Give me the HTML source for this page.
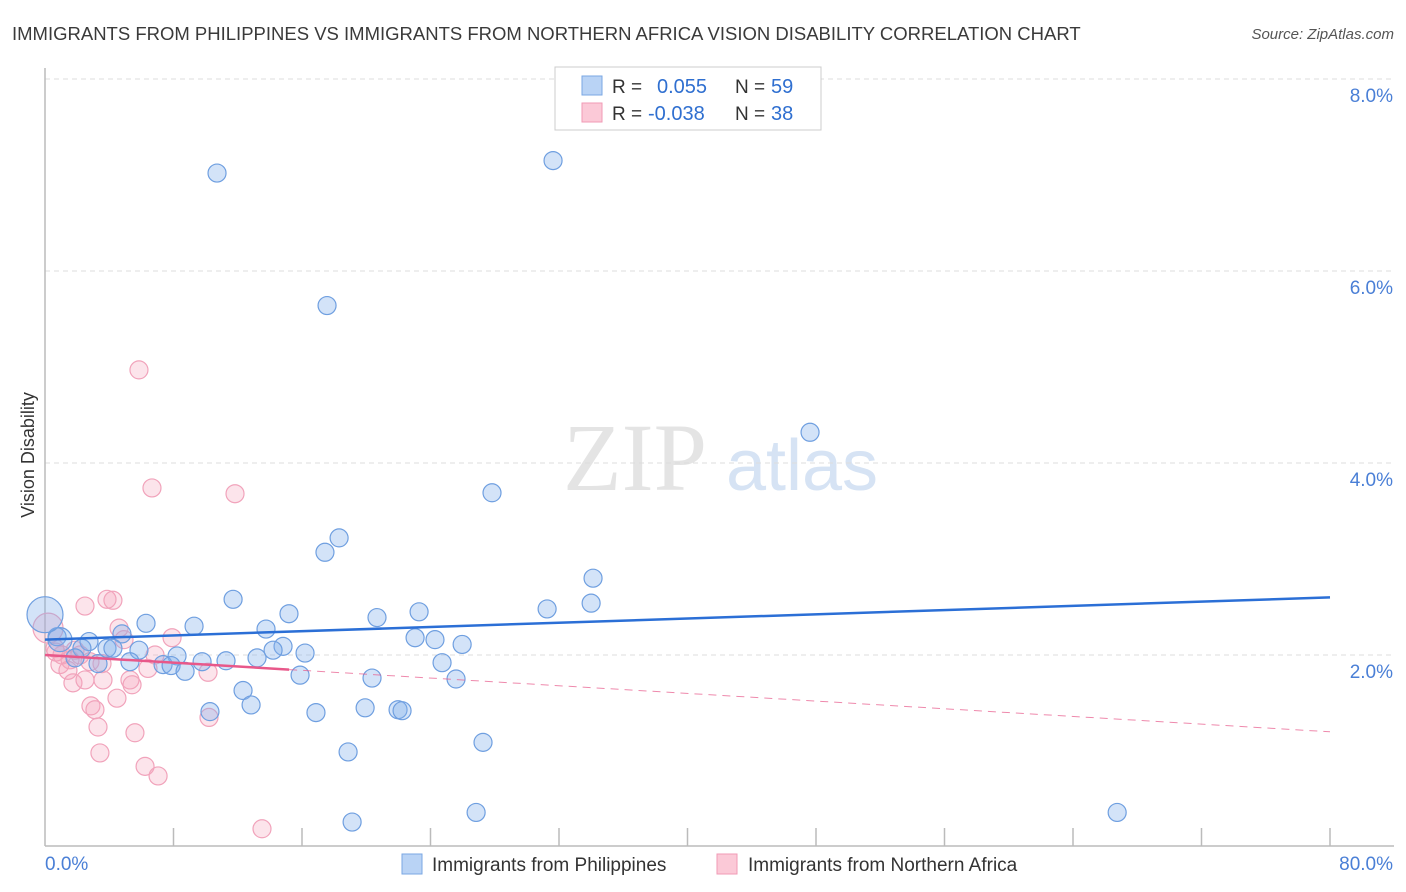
<!DOCTYPE html>
<html><head><meta charset="utf-8"><style>
body{margin:0;background:#fff;font-family:"Liberation Sans",sans-serif;}
svg{display:block}
</style></head><body>
<svg id="chart" width="1406" height="892" xmlns="http://www.w3.org/2000/svg">
<text x="12" y="40" font-size="18.5" fill="#3a3a3a">IMMIGRANTS FROM PHILIPPINES VS IMMIGRANTS FROM NORTHERN AFRICA VISION DISABILITY CORRELATION CHART</text>
<text x="1394" y="39" font-size="15" fill="#555" font-style="italic" text-anchor="end">Source: ZipAtlas.com</text>
<g>
<text x="635" y="490" font-size="96" fill="#e4e4e4" font-family="Liberation Serif,serif" text-anchor="middle">ZIP</text>
<text x="802" y="490" font-size="72" fill="#d6e3f4" text-anchor="middle">atlas</text>
</g>
<g id="grid"></g><g id="axes"></g><g id="pts"></g><g id="trends"></g>
<text transform="translate(34,455) rotate(-90)" font-size="18" fill="#333" text-anchor="middle">Vision Disability</text>
<g>
<rect x="555" y="67" width="266" height="63" fill="#fff" stroke="#ccc"/>
<rect x="582" y="76" width="20" height="19" fill="#b9d3f5" stroke="#7aa7e3"/>
<rect x="582" y="103" width="20" height="19" fill="#fbc9d7" stroke="#f09ab5"/>
<text x="612" y="93" font-size="19" fill="#333">R = </text><text x="657" y="93" font-size="20" fill="#2f6fd0">0.055</text>
<text x="735" y="93" font-size="19" fill="#333">N = </text><text x="771" y="93" font-size="20" fill="#2f6fd0">59</text>
<text x="612" y="120" font-size="19" fill="#333">R = </text><text x="648" y="120" font-size="20" fill="#2f6fd0">-0.038</text>
<text x="735" y="120" font-size="19" fill="#333">N = </text><text x="771" y="120" font-size="20" fill="#2f6fd0">38</text>
</g>
<g>
<rect x="402" y="854" width="20" height="20" fill="#b9d3f5" stroke="#7aa7e3"/>
<text x="432" y="871" font-size="19" fill="#333">Immigrants from Philippines</text>
<rect x="717" y="854" width="20" height="20" fill="#fbc9d7" stroke="#f09ab5"/>
<text x="748" y="871" font-size="19" fill="#333">Immigrants from Northern Africa</text>
</g>
</svg>
<script>
const yTicks=[2,4,6,8];
const yTickLabels=["2.0%","4.0%","6.0%","8.0%"];
const xTickVals=[0,8,16,24,32,40,48,56,64,72,80];
const xEndLabels=["0.0%","80.0%"];
const blueX=[10.71,31.63,17.56,47.63,27.83,18.31,17.43,34.12,11.71,31.26,34.00,15.19,23.29,20.67,6.29,9.28,13.76,4.79,23.04,24.28,25.97,14.82,2.74,0.75,2.30,3.86,4.23,5.85,14.20,16.19,8.22,1.87,5.29,3.30,9.78,11.27,13.20,7.35,7.85,8.72,24.72,15.88,20.36,25.59,12.33,12.83,10.27,16.87,19.93,21.98,22.23,27.27,18.87,26.84,19.12,66.75,0.93,0.0];
const blueY=[7.02,7.15,5.64,4.32,3.69,3.22,3.07,2.80,2.58,2.48,2.54,2.43,2.45,2.39,2.33,2.30,2.27,2.22,2.18,2.16,2.11,2.09,2.14,2.19,2.07,2.07,2.07,2.05,2.05,2.02,1.99,1.97,1.93,1.91,1.93,1.94,1.97,1.90,1.89,1.83,1.92,1.79,1.76,1.75,1.63,1.48,1.41,1.40,1.45,1.43,1.42,1.09,0.99,0.36,0.26,0.36,2.16,2.42];
const blueR=[9,9,9,9,9,9,9,9,9,9,9,9,9,9,9,9,9,9,9,9,9,9,9,9,9,9,9,9,9,9,9,9,9,9,9,9,9,9,9,9,9,9,9,9,9,9,9,9,9,9,9,9,9,9,9,9,12,18];
const pinkX=[5.85,6.66,11.83,4.23,3.86,2.49,4.61,7.91,4.92,6.85,0.19,0.62,1.06,1.56,2.18,0.93,1.43,2.80,3.55,1.74,2.49,3.61,5.29,5.42,6.41,10.15,4.48,2.86,3.11,3.30,5.60,3.42,6.23,7.04,10.21,13.51,0.68,1.87];
const pinkY=[4.97,3.74,3.68,2.57,2.58,2.51,2.28,2.18,2.16,2.00,2.28,2.07,2.00,1.95,2.00,1.90,1.84,1.93,1.91,1.71,1.74,1.74,1.74,1.69,1.86,1.82,1.55,1.47,1.43,1.25,1.19,0.98,0.84,0.74,1.35,0.19,2.03,2.05];
const pinkR=[9,9,9,9,9,9,9,9,9,9,15,9,9,9,9,9,9,9,9,9,9,9,9,9,9,9,9,9,9,9,9,9,9,9,9,9,9,9];
const blueTrend=[2.16,2.60]; // at x=0 and x=80
const pinkTrend=[2.00,1.20];
const pinkSolidEnd=15.2;
const NS="http://www.w3.org/2000/svg";
const X=v=>45+v*16.0625, Y=v=>847-v*96;
function mk(t,a,p){const e=document.createElementNS(NS,t);for(const k in a)e.setAttribute(k,a[k]);p.appendChild(e);return e;}
const grid=document.getElementById('grid'),axes=document.getElementById('axes');
mk('line',{x1:45,x2:1394,y1:79,y2:79,stroke:'#ddd','stroke-dasharray':'5,4'},grid);
yTicks.forEach((v,i)=>{
 const l=mk('line',{x1:45,x2:1394,y1:Y(v),y2:Y(v),stroke:'#ddd','stroke-dasharray':'5,4'},grid);
 
 
 const t=mk('text',{x:1393,y:Y(v)+23,'font-size':19,fill:'#4a7fd6','text-anchor':'end'},axes);
 t.textContent=yTickLabels[i];
 
 
});
mk('line',{x1:45,x2:45,y1:68,y2:846,stroke:'#bbb','stroke-width':1.5},axes);
mk('line',{x1:45,x2:1394,y1:846,y2:846,stroke:'#bbb','stroke-width':1.5},axes);
xTickVals.forEach(v=>{if(v>0){const l=mk('line',{x1:X(v),x2:X(v),y1:828,y2:846,stroke:'#bbb','stroke-width':1.5},axes);
 
 }});
const xl0=mk('text',{x:45,y:870,'font-size':19,fill:'#4a7fd6'},axes);xl0.textContent=xEndLabels[0];


const xl1=mk('text',{x:1393,y:870,'font-size':19,fill:'#4a7fd6','text-anchor':'end'},axes);xl1.textContent=xEndLabels[1];


const pts=document.getElementById('pts');
pinkX.forEach((v,i)=>{const c=mk('circle',{cx:X(v),cy:Y(pinkY[i]),r:pinkR[i],fill:'rgba(246,165,190,0.3)',stroke:'#f1a3bb','stroke-width':1.2},pts);
 
 });
blueX.forEach((v,i)=>{const c=mk('circle',{cx:X(v),cy:Y(blueY[i]),r:blueR[i],fill:'rgba(130,175,235,0.35)',stroke:'#6f9fe0','stroke-width':1.2},pts);
 
 });
const tr=document.getElementById('trends');
const bl=mk('line',{x1:X(0),y1:Y(blueTrend[0]),x2:X(80),y2:Y(blueTrend[1]),stroke:'#2b6fd6','stroke-width':2.5},tr);


const pAt=x=>pinkTrend[0]+(pinkTrend[1]-pinkTrend[0])*x/80;
const ps=mk('line',{x1:X(0),y1:Y(pinkTrend[0]),x2:X(pinkSolidEnd),y2:Y(pAt(pinkSolidEnd)),stroke:'#e8588a','stroke-width':2.5},tr);


const pd=mk('line',{x1:X(pinkSolidEnd),y1:Y(pAt(pinkSolidEnd)),x2:X(80),y2:Y(pinkTrend[1]),stroke:'#e8588a','stroke-width':1,'stroke-dasharray':'8,6',opacity:0.7},tr);


</script>
</body></html>
